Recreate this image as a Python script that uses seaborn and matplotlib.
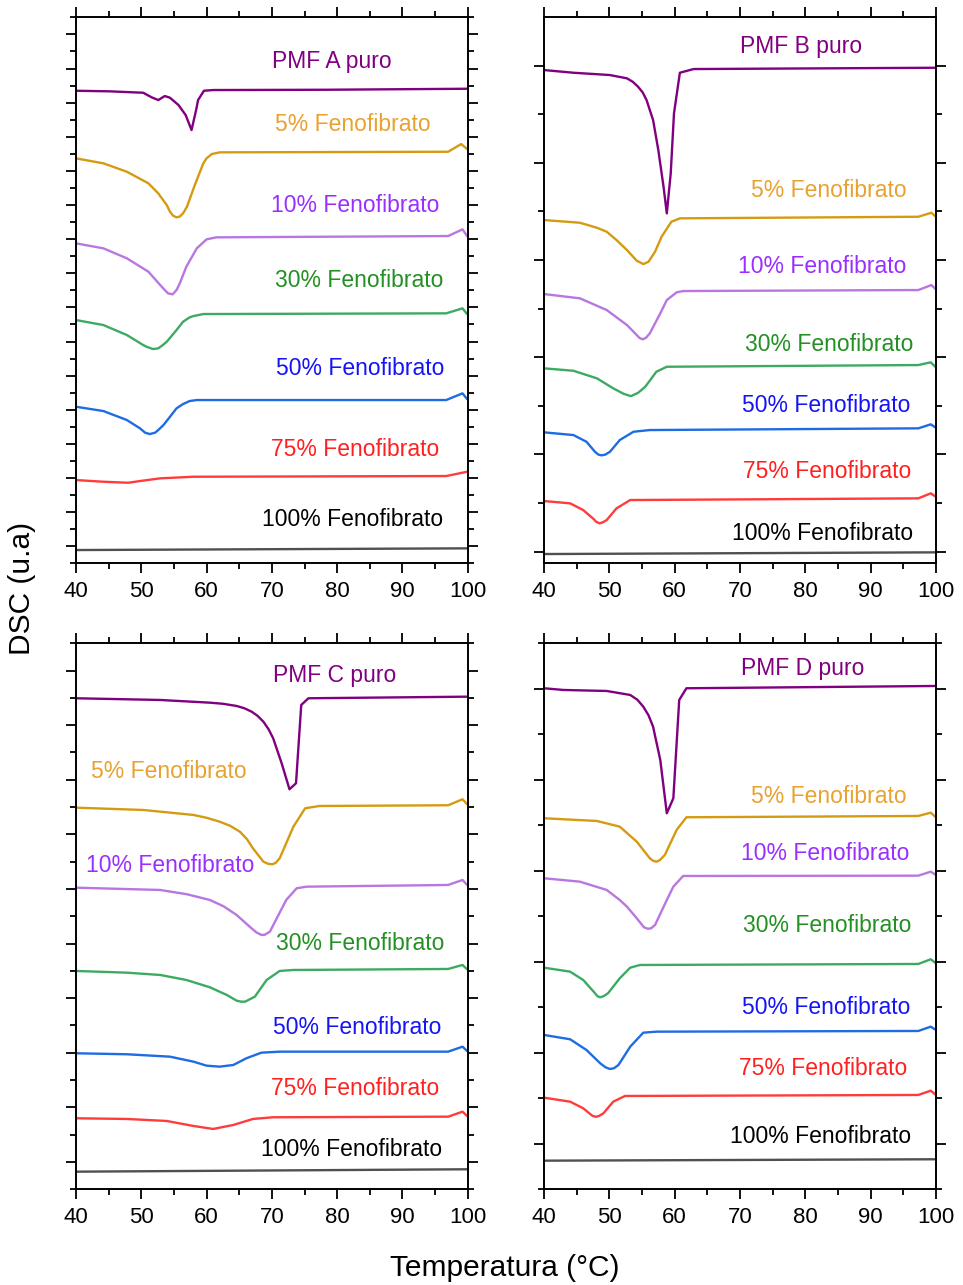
import matplotlib
matplotlib.use("Agg")
import matplotlib.pyplot as plt
from matplotlib.ticker import MultipleLocator
import seaborn as sns
import pandas as pd

# ---- DSC curves, (temperature in °C, heat flow in arbitrary stacked units) ----
# Panel A
A_puro = [(40.0, 47.26), (45.2, 47.2), (50.3, 47.06), (51.6, 46.6), (52.6, 46.33), (53.6, 46.73),
          (54.4, 46.56), (55.7, 45.83), (56.8, 44.83), (57.7, 43.33), (58.4, 45.33), (58.7, 46.33),
          (59.6, 47.26), (61.0, 47.33), (78.4, 47.36), (99.9, 47.46)]
A_5 = [(40.0, 40.5), (44.2, 40.0), (47.8, 39.16), (51.1, 38.0), (52.6, 37.0), (53.9, 35.83), (54.4, 35.16),
       (54.9, 34.75), (55.4, 34.6), (55.9, 34.68), (56.4, 35.0), (57.0, 35.66), (58.2, 37.83), (59.5, 40.0),
       (60.0, 40.5), (60.8, 40.93), (62.0, 41.1), (97.0, 41.16), (99.0, 41.93), (99.9, 41.43)]
A_10 = [(40.0, 32.0), (44.2, 31.5), (47.8, 30.5), (51.1, 29.16), (52.9, 27.83), (53.6, 27.33), (54.1, 27.0),
        (54.8, 26.9), (55.4, 27.33), (55.9, 28.0), (56.9, 29.66), (58.5, 31.5), (60.0, 32.4), (61.5, 32.6),
        (97.0, 32.73), (99.2, 33.4), (99.9, 32.73)]
A_30 = [(40.0, 24.33), (44.2, 23.83), (47.8, 22.83), (50.3, 21.83), (50.8, 21.66), (51.8, 21.43), (52.6, 21.5),
        (53.3, 21.83), (53.9, 22.16), (55.4, 23.33), (56.4, 24.16), (57.4, 24.6), (58.0, 24.73), (59.5, 24.93),
        (96.7, 25.0), (99.2, 25.5), (99.9, 24.93)]
A_50 = [(40.0, 15.66), (44.2, 15.23), (47.8, 14.33), (49.8, 13.5), (50.6, 13.06), (51.3, 12.93), (52.1, 13.06),
        (52.6, 13.33), (53.4, 13.83), (54.4, 14.66), (55.4, 15.5), (56.4, 15.93), (57.4, 16.23), (58.5, 16.33),
        (96.7, 16.33), (99.2, 17.0), (99.9, 16.43)]
A_75 = [(40.0, 8.33), (44.2, 8.16), (48.0, 8.06), (49.8, 8.23), (52.9, 8.5), (58.0, 8.66), (96.7, 8.73), (99.9, 9.16)]
A_100 = [(40.0, 1.33), (100.0, 1.5)]

# Panel B
B_puro = [(40.0, 49.33), (44.5, 49.06), (50.1, 48.83), (52.7, 48.5), (53.6, 48.15), (54.4, 47.66), (55.1, 47.1),
          (55.7, 46.33), (56.7, 44.33), (57.5, 41.33), (58.3, 37.66), (58.8, 35.0), (59.4, 39.0), (59.9, 45.0),
          (60.8, 49.06), (62.9, 49.43), (100.0, 49.56)]
B_5 = [(40.0, 34.33), (45.5, 34.06), (48.1, 33.56), (49.6, 33.16), (51.1, 32.33), (52.7, 31.33), (54.2, 30.26),
       (55.2, 29.93), (56.0, 30.16), (57.0, 31.16), (58.0, 32.66), (59.5, 34.16), (60.8, 34.5), (97.3, 34.66),
       (99.3, 35.06), (100.0, 34.66)]
B_10 = [(40.0, 26.93), (45.5, 26.5), (49.6, 25.33), (52.7, 23.83), (54.2, 22.83), (54.6, 22.55), (55.1, 22.4),
        (55.6, 22.55), (56.2, 23.0), (57.8, 25.0), (58.8, 26.33), (60.3, 27.1), (61.3, 27.23), (97.3, 27.33),
        (99.3, 27.83), (100.0, 27.4)]
B_30 = [(40.0, 19.5), (44.5, 19.26), (48.1, 18.5), (50.6, 17.5), (52.2, 16.95), (53.3, 16.72), (54.4, 17.05),
        (55.5, 17.66), (57.2, 19.16), (58.8, 19.66), (97.3, 19.83), (99.2, 20.1), (100.0, 19.6)]
B_50 = [(40.0, 13.1), (44.5, 12.83), (46.5, 12.16), (47.8, 11.16), (48.3, 10.88), (48.8, 10.8), (49.4, 10.88),
        (50.1, 11.16), (51.6, 12.33), (53.7, 13.16), (56.2, 13.33), (97.3, 13.5), (99.2, 13.9), (100.0, 13.56)]
B_75 = [(40.0, 6.23), (44.0, 6.0), (46.0, 5.33), (47.6, 4.43), (48.0, 4.15), (48.5, 4.0), (49.0, 4.1),
        (49.6, 4.33), (51.1, 5.5), (53.2, 6.33), (97.3, 6.5), (99.2, 7.0), (100.0, 6.66)]
B_100 = [(40.0, 0.93), (100.0, 1.1)]

# Panel C
C_puro = [(40.0, 49.1), (52.9, 48.93), (60.5, 48.66), (62.5, 48.55), (64.6, 48.33), (65.8, 48.1), (66.9, 47.76),
          (67.8, 47.35), (68.7, 46.76), (69.5, 46.0), (70.2, 45.1), (71.5, 42.6), (72.7, 40.0), (73.7, 40.6),
          (74.5, 48.43), (75.6, 49.1), (99.9, 49.26)]
C_5 = [(40.0, 38.16), (50.3, 37.93), (58.0, 37.43), (60.0, 37.15), (62.0, 36.76), (63.6, 36.35), (65.1, 35.76),
       (66.2, 35.0), (67.1, 34.1), (68.7, 32.76), (69.4, 32.55), (70.1, 32.5), (70.6, 32.65), (71.2, 33.1),
       (73.3, 36.26), (75.1, 38.1), (77.3, 38.33), (97.0, 38.4), (99.2, 39.0), (99.9, 38.5)]
C_10 = [(40.0, 30.16), (52.9, 29.93), (57.0, 29.5), (60.5, 28.93), (62.6, 28.3), (64.6, 27.43), (66.6, 26.26),
        (67.6, 25.7), (68.4, 25.43), (68.9, 25.45), (69.7, 25.76), (72.2, 28.93), (73.8, 30.1), (75.3, 30.26),
        (97.0, 30.43), (99.2, 30.93), (99.9, 30.43)]
C_30 = [(40.0, 21.83), (47.8, 21.66), (52.9, 21.43), (56.9, 20.93), (60.5, 20.2), (63.1, 19.43), (64.6, 18.86),
        (65.3, 18.76), (65.9, 18.76), (67.4, 19.26), (69.2, 20.93), (71.2, 21.83), (73.3, 21.93), (97.0, 22.03),
        (99.2, 22.43), (99.9, 22.0)]
C_50 = [(40.0, 13.6), (47.8, 13.5), (54.4, 13.26), (58.0, 12.76), (60.0, 12.36), (62.0, 12.26), (64.1, 12.43),
        (66.1, 13.1), (68.4, 13.66), (71.2, 13.76), (97.0, 13.76), (99.2, 14.26), (99.9, 13.83)]
C_75 = [(40.0, 7.1), (47.8, 7.03), (53.9, 6.83), (58.0, 6.33), (61.0, 6.03), (64.1, 6.43), (67.1, 7.03),
        (70.2, 7.2), (97.0, 7.26), (99.2, 7.76), (99.9, 7.33)]
C_100 = [(40.0, 1.76), (100.0, 2.0)]

# Panel D
D_puro = [(40.0, 50.1), (43.0, 49.93), (49.6, 49.83), (53.2, 49.43), (54.3, 48.95), (55.2, 48.26), (56.0, 47.4),
          (56.7, 46.26), (57.8, 42.93), (58.8, 37.6), (59.8, 39.1), (60.7, 48.93), (61.8, 50.1), (100.0, 50.33)]
D_5 = [(40.0, 37.1), (48.1, 36.83), (51.6, 36.26), (54.2, 34.76), (56.2, 33.1), (56.7, 32.85), (57.2, 32.76),
       (57.7, 32.9), (58.5, 33.43), (60.3, 35.93), (61.8, 37.2), (97.3, 37.33), (99.2, 37.66), (100.0, 37.2)]
D_10 = [(40.0, 31.1), (45.5, 30.76), (49.6, 29.93), (51.6, 28.93), (52.7, 28.26), (54.2, 27.1), (55.3, 26.2),
        (55.9, 26.05), (56.4, 26.1), (57.0, 26.43), (58.8, 28.93), (59.8, 30.26), (61.3, 31.33), (97.3, 31.36),
        (99.2, 31.76), (100.0, 31.43)]
D_30 = [(40.0, 22.16), (44.0, 21.76), (46.0, 20.93), (47.6, 19.76), (48.2, 19.3), (48.6, 19.2), (49.1, 19.3),
        (49.8, 19.6), (51.6, 21.1), (53.2, 22.16), (54.7, 22.43), (97.3, 22.53), (99.2, 23.0), (100.0, 22.6)]
D_50 = [(40.0, 15.43), (44.0, 15.0), (46.5, 13.93), (48.6, 12.6), (49.4, 12.2), (50.1, 12.03), (50.7, 12.1),
        (51.4, 12.43), (53.2, 14.26), (55.2, 15.66), (57.2, 15.76), (97.3, 15.83), (99.2, 16.26), (100.0, 15.93)]
D_75 = [(40.0, 9.16), (44.0, 8.76), (46.0, 8.1), (47.4, 7.35), (47.9, 7.25), (48.4, 7.32), (49.1, 7.6),
        (50.6, 8.76), (52.4, 9.33), (97.3, 9.43), (99.2, 9.86), (100.0, 9.43)]
D_100 = [(40.0, 2.86), (100.0, 3.0)]

# Sample names (drawn as curve labels)
samples = ["puro", "5%", "10%", "30%", "50%", "75%", "100%"]
fen_labels = ["5% Fenofibrato", "10% Fenofibrato", "30% Fenofibrato", "50% Fenofibrato",
              "75% Fenofibrato", "100% Fenofibrato"]
panel_names = ["A", "B", "C", "D"]
x_tick_labels = ["40", "50", "60", "70", "80", "90", "100"]

curves = {
    "A": [A_puro, A_5, A_10, A_30, A_50, A_75, A_100],
    "B": [B_puro, B_5, B_10, B_30, B_50, B_75, B_100],
    "C": [C_puro, C_5, C_10, C_30, C_50, C_75, C_100],
    "D": [D_puro, D_5, D_10, D_30, D_50, D_75, D_100],
}

# ---- styling ----
line_colors = {"puro": "#800080", "5%": "#D49B12", "10%": "#B877E0", "30%": "#3DAA62",
               "50%": "#1E6CE3", "75%": "#FF3C3C", "100%": "#505050"}
text_colors = {"puro": "#800080", "5%": "#E8A230", "10%": "#9A2EFF", "30%": "#229022",
               "50%": "#1414F5", "75%": "#FF2020", "100%": "#000000"}

# label anchors (temperature, heat flow) per panel, same order as samples
label_pos = {
    "A": [(79.2, 49.5), (82.4, 43.26), (82.8, 35.1), (83.35, 27.6), (83.6, 18.83), (82.8, 10.76), (82.4, 3.76)],
    "B": [(79.4, 51.0), (83.6, 36.66), (82.6, 29.0), (83.6, 21.26), (83.2, 15.16), (83.3, 8.5), (82.7, 2.33)],
    "C": [(79.6, 50.7), (54.2, 41.1), (54.5, 31.76), (83.5, 23.93), (83.1, 15.53), (82.7, 9.43), (82.2, 3.33)],
    "D": [(79.6, 51.43), (83.6, 38.6), (83.0, 32.93), (83.4, 25.7), (83.2, 17.53), (82.8, 11.43), (82.3, 4.6)],
}

# y tick layout per panel: (major step, major offset, minor step, minor offset)
y_ticks = {
    "A": (3.4125, 1.70625, 1.70625, 0.0),
    "B": (9.72, 1.17, 4.86, 1.17),
    "C": (5.46, 2.73, 2.73, 0.0),
    "D": (9.1, 4.55, 4.55, 0.0),
}

axes_rect = {
    "A": [0.0789, 0.5616, 0.4068, 0.4249],
    "B": [0.5649, 0.5616, 0.4070, 0.4249],
    "C": [0.0789, 0.0745, 0.4068, 0.4249],
    "D": [0.5649, 0.0745, 0.4070, 0.4249],
}

sns.set_theme(style="ticks")
plt.rcParams["font.family"] = ["Liberation Sans", "DejaVu Sans"]

fig = plt.figure(figsize=(9.63, 12.85), dpi=100)
fig.patch.set_facecolor("white")

for name in panel_names:
    ax = fig.add_axes(axes_rect[name])
    rows = []
    for s, pts in zip(samples, curves[name]):
        for t, v in pts:
            rows.append({"Temperatura": t, "DSC": v, "amostra": s})
    df = pd.DataFrame(rows)
    sns.lineplot(data=df, x="Temperatura", y="DSC", hue="amostra", hue_order=samples,
                 palette=line_colors, estimator=None, sort=False, legend=False,
                 linewidth=1.7, ax=ax)
    for ln in ax.get_lines():
        ln.set_solid_joinstyle("round")

    labels = [f"PMF {name} puro"] + fen_labels
    for s, lab, (tx, ty) in zip(samples, labels, label_pos[name]):
        ax.text(tx, ty, lab, color=text_colors[s], fontsize=16.5, ha="center", va="baseline")

    ax.set_xlim(40, 100)
    ax.set_ylim(0, 54.6)
    ax.xaxis.set_major_locator(MultipleLocator(10))
    ax.xaxis.set_minor_locator(MultipleLocator(5))
    ax.set_xticks([40, 50, 60, 70, 80, 90, 100])
    ax.set_xticklabels(x_tick_labels)
    mj, mo, mn, no = y_ticks[name]
    ax.yaxis.set_major_locator(MultipleLocator(mj, offset=mo))
    ax.yaxis.set_minor_locator(MultipleLocator(mn, offset=no))

    ax.set_xlabel("")
    ax.set_ylabel("")
    for sp in ax.spines.values():
        sp.set_visible(True)
        sp.set_linewidth(1.4)
        sp.set_color("black")
    ax.tick_params(which="both", direction="out", top=True, right=True, bottom=True, left=True,
                   labelleft=False, labelright=False, labeltop=False, labelbottom=True,
                   color="black", width=1.3)
    ax.tick_params(which="major", length=7.5, labelsize=16, pad=5.5, labelcolor="black")
    ax.tick_params(which="minor", length=4)
    ax.set_facecolor("white")
    ax.grid(False)

fig.text(22 / 963, 1 - 588 / 1285, "DSC (u.a)", rotation=90, fontsize=21.5,
         ha="center", va="center", color="black")
fig.text(505 / 963, 1 - 1268 / 1285, "Temperatura (°C)", fontsize=21.5,
         ha="center", va="center", color="black")

fig.savefig("out.png", dpi=100, facecolor="white")
